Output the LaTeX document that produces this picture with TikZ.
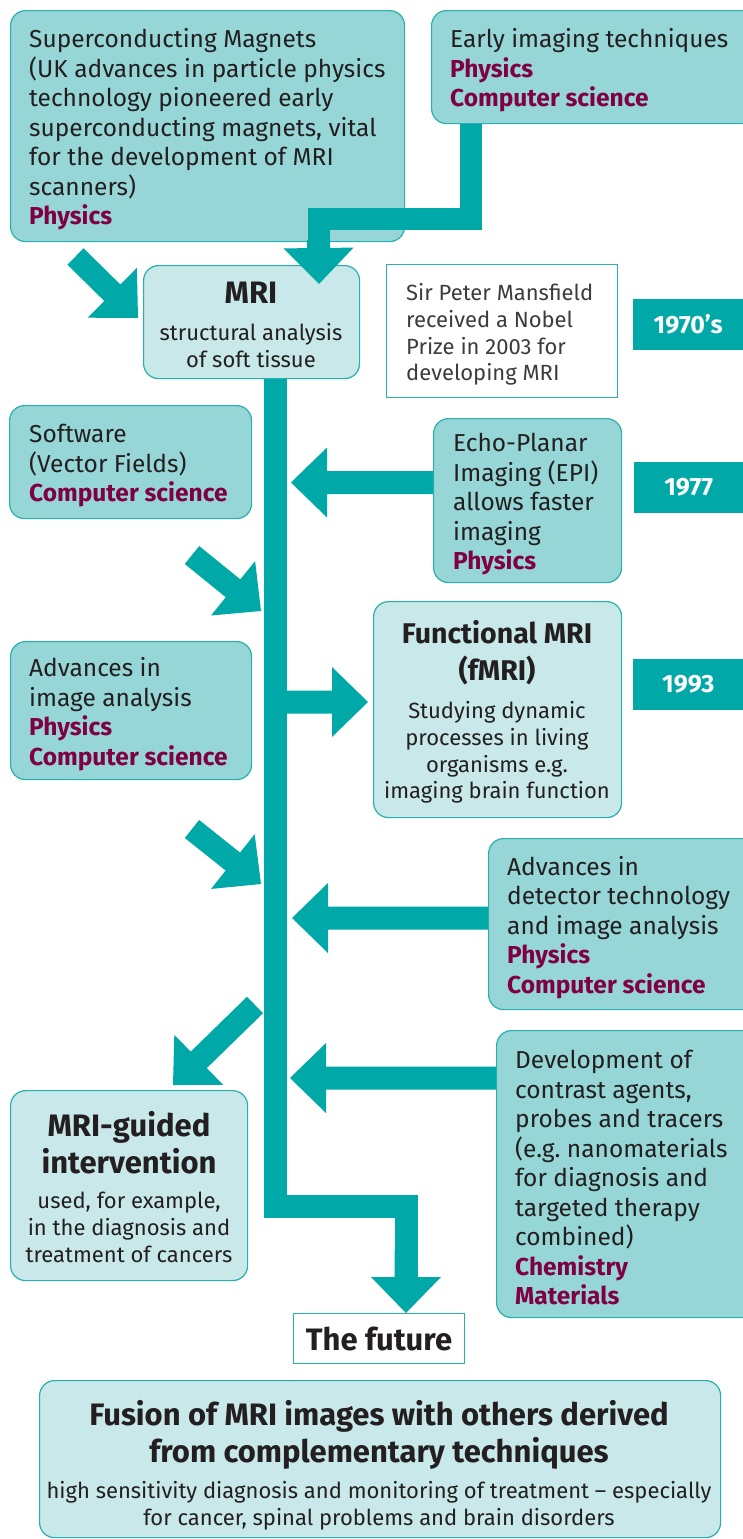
\documentclass[tikz,border=0pt]{standalone}
\usepackage{fontspec}
\setmainfont{Fira Sans}
\usetikzlibrary{calc,backgrounds}
\frenchspacing

\definecolor{arrowteal}{RGB}{0,168,168}
\definecolor{darkfill}{RGB}{150,214,214}
\definecolor{lightfill}{RGB}{200,232,233}
\definecolor{edge}{RGB}{40,176,176}
\definecolor{subject}{RGB}{128,0,70}
\definecolor{ink}{RGB}{35,31,32}
\definecolor{softink}{RGB}{60,60,60}

\newcommand\bodyfont{\fontsize{24.5}{29.5}\selectfont}
\newcommand\smallfont{\fontsize{22}{26.7}\selectfont}
\newcommand\headfont{\fontsize{31}{37}\selectfont\bfseries}
\newcommand\yearfont{\fontsize{25}{28}\selectfont\bfseries}
\newcommand\subj[1]{\textbf{\color{subject}#1}}

% block arrow: shaft from #1 to the base of a triangular head whose tip is #2
\newcommand\fatarrow[2]{%
  \fill[arrowteal] let \p1=(#1), \p2=(#2), \n1={atan2(\y2-\y1,\x2-\x1)} in
    ($(\p1)+({\n1+90}:11.5pt)$) --
    ($(\p2)+({\n1+180}:36pt)+({\n1+90}:11.5pt)$) --
    ($(\p2)+({\n1+180}:36pt)+({\n1+90}:35pt)$) --
    (\p2) --
    ($(\p2)+({\n1+180}:36pt)+({\n1-90}:35pt)$) --
    ($(\p2)+({\n1+180}:36pt)+({\n1-90}:11.5pt)$) --
    ($(\p1)+({\n1-90}:11.5pt)$) -- cycle;}

\tikzset{
  x=1pt, y=1pt,
  box/.style={draw=edge, line width=1.2pt, rounded corners=15pt, anchor=north west, inner sep=0pt},
  darkbox/.style={box, fill=darkfill},
  lightbox/.style={box, fill=lightfill},
  notebox/.style={draw=edge, line width=1pt, fill=white, anchor=north west, inner sep=0pt},
  yearbox/.style={fill=arrowteal, text=white, font=\yearfont, anchor=north west,
    inner sep=0pt, align=center},
  bodytext/.style={anchor=west, align=left, inner sep=0pt, text=ink, font=\bodyfont},
  notetext/.style={anchor=west, align=left, inner sep=0pt, text=softink, font=\smallfont},
  headtext/.style={text=ink, font=\headfont, align=center, inner sep=0pt},
  smalltext/.style={text=ink, font=\smallfont, align=center, inner sep=0pt},
  trunk/.style={draw=arrowteal, line width=23pt, line join=miter},
}

\begin{document}
\begin{tikzpicture}
\useasboundingbox (0,0) rectangle (743,-1539);

% subject boxes
\node[darkbox, minimum width=394pt, minimum height=231pt] (sup) at (10,-10) {};
\node[bodytext] (supT) at ($(sup.west)+(19,-3.5)$)
  {Superconducting Magnets\\(UK advances in particle physics\\technology pioneered early\\superconducting magnets, vital\\for the development of MRI\\scanners)\\\subj{Physics}};

\node[darkbox, minimum width=330pt, minimum height=113pt] (early) at (431,-10) {};
\node[bodytext] (earlyT) at ($(early.west)+(19,-3.5)$)
  {Early imaging techniques\\\subj{Physics}\\\subj{Computer science}};

\node[darkbox, minimum width=242pt, minimum height=113pt] (soft) at (9,-405) {};
\node[bodytext] (softT) at ($(soft.west)+(20,-3.5)$)
  {Software\\(Vector Fields)\\\subj{Computer science}};

\node[darkbox, minimum width=188pt, minimum height=164pt] (echo) at (433,-418) {};
\node[bodytext] (echoT) at ($(echo.west)+(20,-3.5)$)
  {Echo-Planar\\Imaging (EPI)\\allows faster\\imaging\\\subj{Physics}};

\node[darkbox, minimum width=241pt, minimum height=138pt] (imgan) at (10,-641) {};
\node[bodytext] (imganT) at ($(imgan.west)+(19,-3.5)$)
  {Advances in\\image analysis\\\subj{Physics}\\\subj{Computer science}};

\node[darkbox, minimum width=280pt, minimum height=171pt] (detect) at (488,-838) {};
\node[bodytext] (detectT) at ($(detect.west)+(19,-3.5)$)
  {Advances in\\detector technology\\and image analysis\\\subj{Physics}\\\subj{Computer science}};

\node[darkbox, minimum width=275pt, minimum height=287pt] (contrast) at (496,-1030) {};
\node[bodytext] (contrastT) at ($(contrast.west)+(19,-3.5)$)
  {Development of\\contrast agents,\\probes and tracers\\(e.g. nanomaterials\\for diagnosis and\\targeted therapy\\combined)\\\subj{Chemistry}\\\subj{Materials}};

% outcome boxes
\node[lightbox, minimum width=216pt, minimum height=113pt] (mri) at (143,-265) {};
\node[headtext] (mriT) at (251,-293) {MRI};
\node[smalltext] (mriS) at (251,-345.5) {structural analysis\\of soft tissue};

\node[lightbox, minimum width=248pt, minimum height=216pt] (fmri) at (373,-601) {};
\node[headtext, font=\fontsize{28.5}{37}\selectfont\bfseries] (fmriT) at (497,-653) {Functional MRI\\(fMRI)};
\node[smalltext] (fmriS) at (497,-752.5) {Studying dynamic\\processes in living\\organisms e.g.\\imaging brain function};

\node[lightbox, minimum width=237pt, minimum height=190pt] (guided) at (10,-1090) {};
\node[headtext] (guidedT) at (129,-1143) {MRI-guided\\intervention};
\node[smalltext] (guidedS) at (129,-1227.5) {used, for example,\\in the diagnosis and\\treatment of cancers};

\node[lightbox, minimum width=681pt, minimum height=157pt] (fusion) at (39,-1380) {};
\node[headtext] (fusionT) at (379,-1435) {Fusion of MRI images with others derived\\from complementary techniques};
\node[smalltext] (fusionS) at (379,-1506) {high sensitivity diagnosis and monitoring of treatment -- especially\\for cancer, spinal problems and brain disorders};

% plain white boxes
\node[notebox, minimum width=231pt, minimum height=133pt] (nobel) at (386,-264) {};
\node[notetext] (nobelT) at ($(nobel.west)+(20,-3.5)$)
  {Sir Peter Mansfield\\received a Nobel\\Prize in 2003 for\\developing MRI};
\node[notebox, minimum width=171pt, minimum height=50pt, text=ink, font=\headfont] (future) at (293,-1313)
  {The future};

% date labels
\node[yearbox, minimum width=110pt, minimum height=51pt] (y1) at (633,-299) {1970’s};
\node[yearbox, minimum width=109pt, minimum height=51pt] (y2) at (634,-462) {1977};
\node[yearbox, minimum width=110pt, minimum height=51pt] (y3) at (633,-659) {1993};

% connectors under the boxes
\begin{scope}[on background layer]
  \coordinate (trunkTop) at (275.5,-378);
  \coordinate (trunkBend) at (406,-1206);
  \coordinate (futureBase) at (406,-1280);
  \draw[trunk] (trunkTop) |- (trunkBend) -- (futureBase);
  \fatarrow{406,-1250}{future.north -| trunkBend}

  \coordinate (supTail) at (75.5,-256.5);
  \fatarrow{supTail}{138,-318}

  \coordinate (echoTip) at (291,-482.5);
  \fatarrow{echo.west |- echoTip}{echoTip}

  \coordinate (softTail) at (192,-555);
  \fatarrow{softTail}{261,-611}

  \coordinate (fmriTail) at (280,-702);
  \fatarrow{fmriTail}{368,-702}

  \coordinate (imganTail) at (192,-829);
  \fatarrow{imganTail}{261,-884}

  \coordinate (detectTip) at (292,-918);
  \fatarrow{detect.west |- detectTip}{detectTip}

  \coordinate (contrastTip) at (290,-1078);
  \fatarrow{contrast.west |- contrastTip}{contrastTip}

  \coordinate (guidedTail) at (255,-1005);
  \fatarrow{guidedTail}{173,-1085}
\end{scope}

% connector from the early techniques, laid over the magnets box
\coordinate (earlyOut) at (early.south -| 471,0);
\coordinate (earlyBend) at (318.5,-218.5);
\draw[trunk, line width=22pt] (earlyOut) |- (earlyBend) -- (318.5,-255);
\fatarrow{318.5,-240}{319,-284}
\end{tikzpicture}
\end{document}
